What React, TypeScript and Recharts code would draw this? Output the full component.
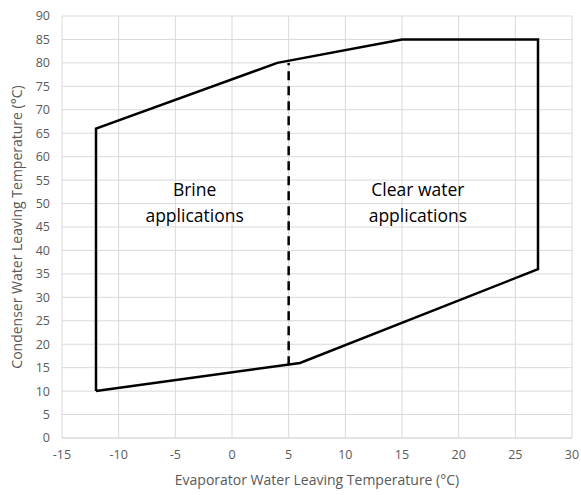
import {
  LineChart,
  Line,
  XAxis,
  YAxis,
  CartesianGrid,
  ReferenceDot,
} from "recharts";

// Operating envelope outline (closed polygon)
const envelopeX = [-12, -12, 4, 15, 27, 27, 6, -12];
const envelopeY = [10, 66, 80, 85, 85, 36, 16, 10];

// Dashed divider between brine and clear water regions
const dividerX = [5, 5];
const dividerY = [15.5, 80];

const xTicks = [-15, -10, -5, 0, 5, 10, 15, 20, 25, 30];
const yTicks = [0, 5, 10, 15, 20, 25, 30, 35, 40, 45, 50, 55, 60, 65, 70, 75, 80, 85, 90];

const regionLabels = [
  { x: -3.3, y: 53, text: "Brine" },
  { x: -3.3, y: 47.3, text: "applications" },
  { x: 16.4, y: 53, text: "Clear water" },
  { x: 16.4, y: 47.3, text: "applications" },
];

const envelope = envelopeX.map((x, i) => ({ x, y: envelopeY[i] }));
const divider = dividerX.map((x, i) => ({ x, y: dividerY[i] }));

const FONT = "'Open Sans', 'Liberation Sans', sans-serif";
const tickStyle = { fontSize: 12.5, fill: "#595959", fontFamily: FONT };

export default function App() {
  return (
    <div style={{ position: "absolute", left: 0, top: 0, background: "#fff" }}>
      <LineChart
        width={581}
        height={495}
        margin={{ top: 16, right: 9, bottom: 0, left: 0 }}
      >
        <CartesianGrid stroke="#d9d9d9" verticalValues={xTicks} horizontalValues={yTicks} />
        <XAxis
          type="number"
          dataKey="x"
          domain={[-15, 30]}
          ticks={xTicks}
          interval={0}
          allowDataOverflow
          height={57}
          tickLine={false}
          tickSize={0}
          tickMargin={12}
          axisLine={{ stroke: "#d9d9d9" }}
          tick={tickStyle}
          label={{
            value: "Evaporator Water Leaving Temperature (°C)",
            position: "insideBottom",
            offset: 10,
            style: { fontSize: 14, fill: "#595959", fontFamily: FONT },
          }}
        />
        <YAxis
          type="number"
          dataKey="y"
          domain={[0, 90]}
          ticks={yTicks}
          interval={0}
          width={62}
          tickLine={false}
          tickSize={0}
          tickMargin={12}
          axisLine={false}
          tick={tickStyle}
          label={{
            value: "Condenser Water Leaving Temperature (°C)",
            angle: -90,
            position: "insideLeft",
            dx: 12,
            dy: 0,
            style: { fontSize: 14, fill: "#595959", fontFamily: FONT, textAnchor: "middle" },
          }}
        />
        <Line
          data={envelope}
          dataKey="y"
          stroke="#000"
          strokeWidth={2.5}
          dot={false}
          isAnimationActive={false}
          strokeLinejoin="miter"
        />
        <Line
          data={divider}
          dataKey="y"
          stroke="#000"
          strokeWidth={2.5}
          strokeDasharray="9 6"
          dot={false}
          isAnimationActive={false}
        />
        {regionLabels.map((l, i) => (
          <ReferenceDot
            key={i}
            x={l.x}
            y={l.y}
            r={0}
            stroke="none"
            fill="none"
            label={{
              value: l.text,
              position: "center",
              style: { fontSize: 17.5, fill: "#000", fontFamily: FONT },
            }}
          />
        ))}
      </LineChart>
    </div>
  );
}
